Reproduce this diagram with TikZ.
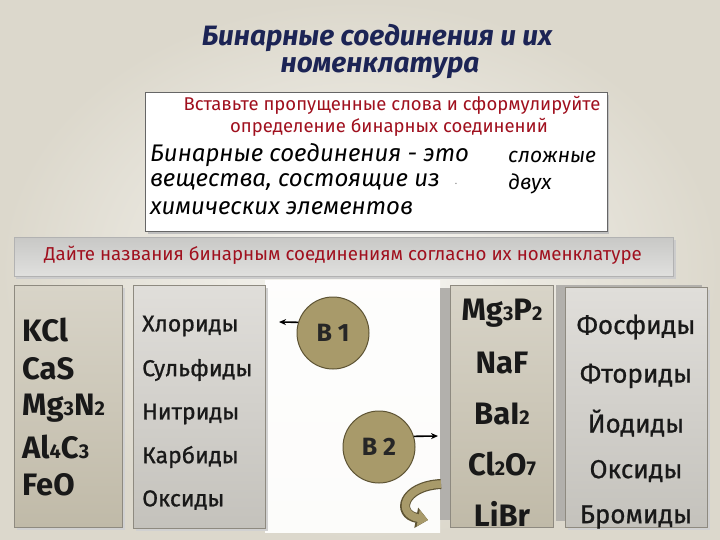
\documentclass[tikz,border=0pt]{standalone}
\usepackage{fontspec}
\setmainfont{Fira Sans}
\newfontfamily\semib[FakeBold=0.8]{Fira Sans}
\usetikzlibrary{arrows.meta}
\definecolor{navy}{HTML}{1C2455}
\definecolor{dred}{HTML}{A0101E}
\definecolor{khaki}{HTML}{A89A6A}
\definecolor{khakid}{HTML}{5E5434}
\definecolor{bgin}{HTML}{F8F7F3}
\definecolor{bgout}{HTML}{DCD8CC}
\definecolor{pfTop}{HTML}{D8D4C8}
\definecolor{pfBot}{HTML}{C0BAA8}
\definecolor{pnTop}{HTML}{E0DEDA}
\definecolor{pnBot}{HTML}{C4C2BC}
\definecolor{pback}{HTML}{B2B0AC}
\definecolor{pedge}{HTML}{8E8A80}
\definecolor{bandTop}{HTML}{C8C8C6}
\definecolor{bandBot}{HTML}{E0E0DE}
\newcommand\lowdig[1]{{\fontsize{20}{20}\selectfont #1}}
\tikzset{
  titletxt/.style={font=\fontsize{28}{30}\selectfont\bfseries\itshape, text=navy, inner sep=0pt},
  redtxt/.style={font=\fontsize{18.5}{20}\selectfont, text=dred, inner sep=0pt},
  deftxt/.style={font=\fontsize{24}{26}\selectfont\itshape, text=black, inner sep=0pt, anchor=west},
  filltxt/.style={font=\fontsize{21}{23}\selectfont\itshape, text=black, inner sep=0pt, anchor=west},
  formula/.style={font=\fontsize{31}{33}\selectfont\bfseries, text=black!90, inner sep=0pt},
  nameL/.style={font=\semib\fontsize{23}{25}\selectfont, text=black!90, inner sep=0pt, anchor=west},
  nameR/.style={font=\semib\fontsize{26}{28}\selectfont, text=black!90, inner sep=0pt},
  panelF/.style={top color=pfTop, bottom color=pfBot, draw=pedge, line width=0.8pt, anchor=north west, inner sep=0pt},
  panelN/.style={top color=pnTop, bottom color=pnBot, draw=pedge, line width=0.8pt, anchor=north west, inner sep=0pt},
  ball/.style={circle, minimum size=72pt, fill=khaki, draw=khakid, line width=1pt, inner sep=0pt,
    font=\fontsize{25}{25}\selectfont\bfseries, text=black!85},
  shortarrow/.style={-{Stealth[length=7pt,width=6pt]}, line width=1.6pt, black}
}
\begin{document}
\begin{tikzpicture}[x=1pt,y=-1pt]
\useasboundingbox (0,0) rectangle (720,540);
% background
\shade[inner color=bgin, outer color=bgout] (0,0) rectangle (720,540);
\shade[top color=white!80!bgin, bottom color=white!60!bgin] (265,280) rectangle (440,532);
% title
\node[titletxt] (t1) at (377,38) {Бинарные соединения и их};
\node[titletxt] (t2) at (380,68) {номенклатура};
% definition box
\fill[black!25] (148,95) rectangle (609,234);
\node[draw=black!60, fill=white, line width=0.8pt, minimum width=462pt, minimum height=139pt, anchor=north west, inner sep=0pt] (box) at (145,92) {};
\node[redtxt] (r1) at (392,105) {Вставьте пропущенные слова и сформулируйте};
\node[redtxt] (r2) at (389,127) {определение бинарных соединений};
\node[deftxt] (d1) at (150,155) {Бинарные соединения - это};
\node[deftxt] (d2) at (150,182) {вещества, состоящие из};
\node[font=\fontsize{10}{10}\selectfont, text=black!50, inner sep=0pt] (dot) at (456,184) {.};
\node[deftxt] (d3) at (150,208) {химических элементов};
\node[filltxt] (f1) at (508,157) {сложные};
\node[filltxt] (f2) at (508,184) {двух};
% band
\fill[black!20] (16,240) rectangle (676,279);
\node[top color=bandTop, bottom color=bandBot, draw=black!30, line width=0.5pt, minimum width=659pt, minimum height=39pt, anchor=north west, inner sep=0pt] (band) at (14,237) {};
\node[font=\fontsize{18.7}{20}\selectfont, text=dred, inner sep=0pt] (bt) at (343,255) {Дайте названия бинарным соединениям согласно их номенклатуре};
% left panels
\fill[black!18] (17,288) rectangle (125,530);
\node[panelF, minimum width=108pt, minimum height=242pt] (p1) at (14,285) {};
\fill[black!18] (136,288) rectangle (268,531);
\node[panelN, minimum width=132pt, minimum height=243pt] (p2) at (133,285) {};
\node[formula, anchor=west] (l1) at (22,330) {KCl};
\node[formula, anchor=west] (l2) at (22,369) {CaS};
\node[formula, anchor=west] (l3) at (22,408) {Mg\lowdig{3}N\lowdig{2}};
\node[formula, anchor=west] (l4) at (22,447) {Al\lowdig{4}C\lowdig{3}};
\node[formula, anchor=west] (l5) at (22,485) {FeO};
\node[nameL] (n1) at (142,326) {Хлориды};
\node[nameL] (n2) at (142,370) {Сульфиды};
\node[nameL] (n3) at (142,414) {Нитриды};
\node[nameL] (n4) at (142,457) {Карбиды};
\node[nameL] (n5) at (142,500) {Оксиды};
% right panels
\fill[pback] (440,288) rectangle (548,520);
\node[panelF, minimum width=103pt, minimum height=242pt] (p3) at (450,285) {};
\fill[pback] (556,285) rectangle (702,521);
\fill[black!18] (568,290) rectangle (710,530);
\node[panelN, minimum width=142pt, minimum height=240pt] (p4) at (565,287) {};
\node[formula] (m1) at (502,313) {Mg\lowdig{3}P\lowdig{2}};
\node[formula] (m2) at (502,363) {NaF};
\node[formula] (m3) at (502,414) {BaI\lowdig{2}};
\node[formula] (m4) at (502,464) {Cl\lowdig{2}O\lowdig{7}};
\node[formula] (m5) at (502,514) {LiBr};
\node[nameR] (k1) at (636,327) {Фосфиды};
\node[nameR] (k2) at (636,376) {Фториды};
\node[nameR] (k3) at (636,423) {Йодиды};
\node[nameR] (k4) at (636,471) {Оксиды};
\node[nameR] (k5) at (636,517) {Бромиды};
% circles and arrows
\node[ball] (b1) at (333,333) {В 1};
\node[ball] (b2) at (379,447) {В 2};
\coordinate (a1) at (279,322);
\coordinate (a2) at (438,436);
\draw[shortarrow] (b1.163) -- (a1);
\draw[shortarrow] (b2.17) -- (a2);
% curved arrow
\coordinate (cs) at (441,484);
\coordinate (ce) at (428,520);
\draw[line width=10pt, khakid, -{Triangle[length=12pt,width=20pt]}] (cs) .. controls (402,486) and (396,514) .. (ce);
\draw[line width=7.6pt, khaki, -{Triangle[length=10pt,width=16pt]}] (cs) .. controls (402,486) and (396,514) .. (ce);
\end{tikzpicture}
\end{document}
